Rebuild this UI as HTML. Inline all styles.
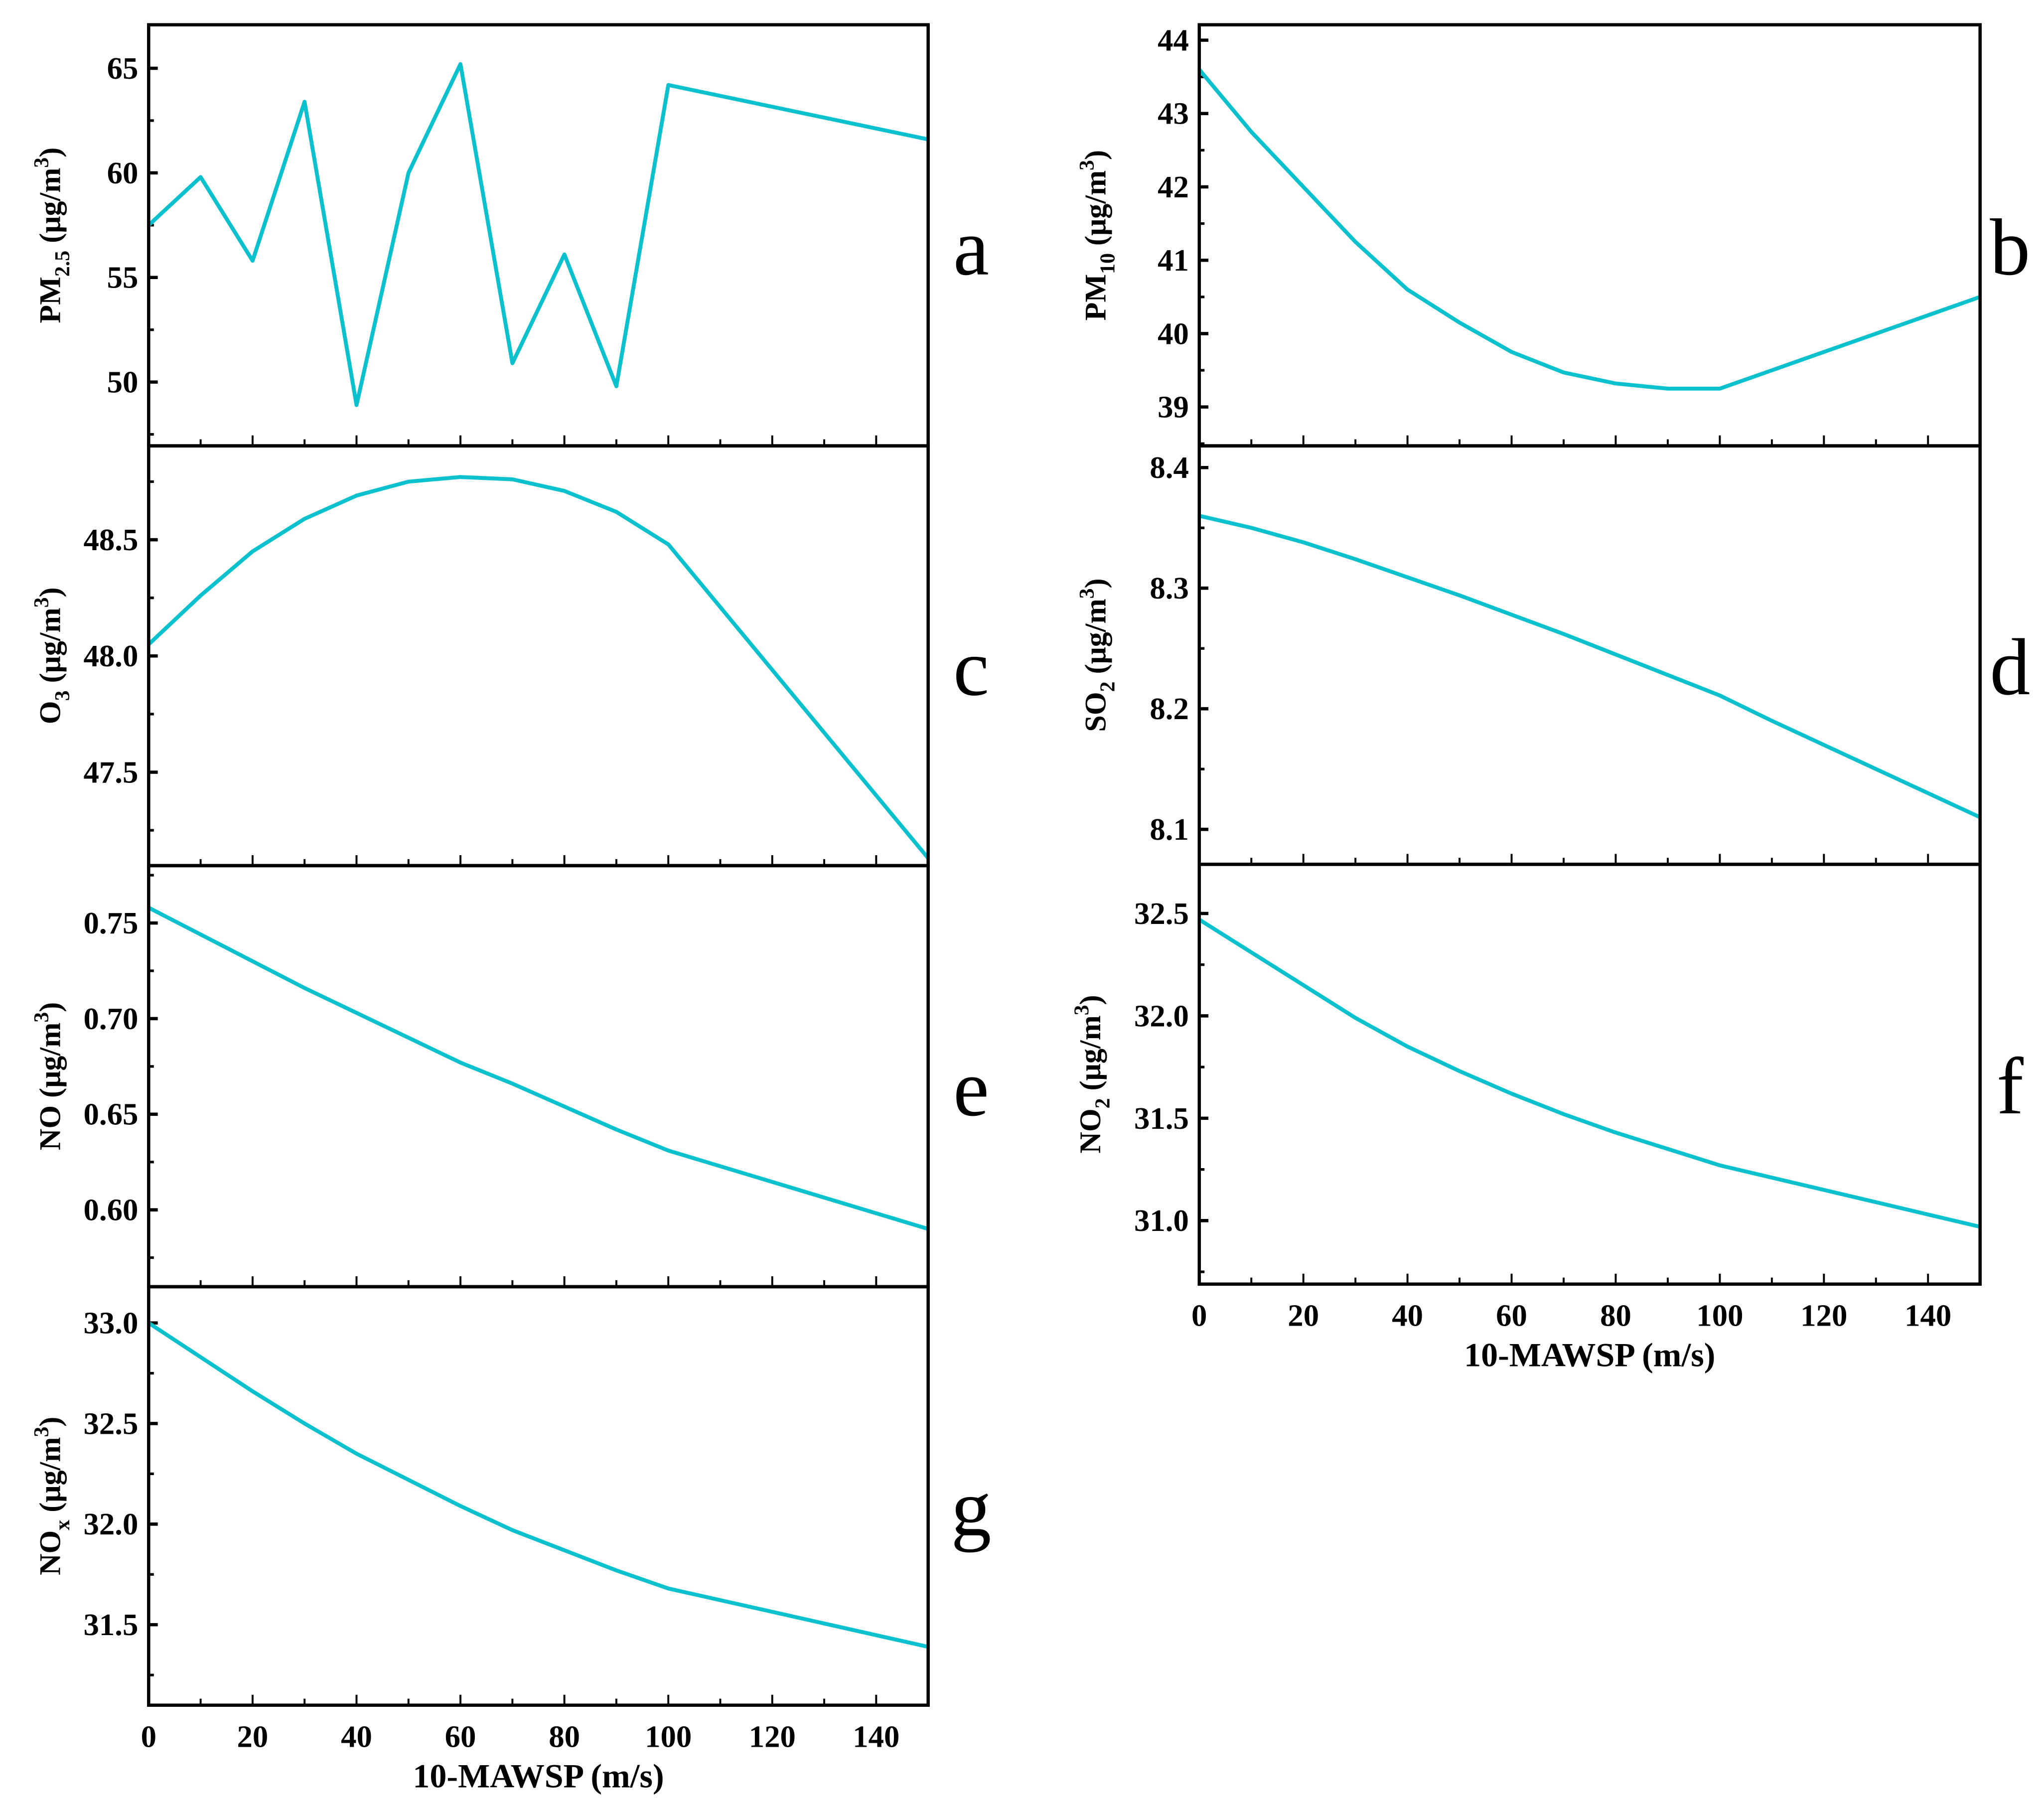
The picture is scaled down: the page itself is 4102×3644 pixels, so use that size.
<!DOCTYPE html>
<html><head><meta charset="utf-8"><style>
html,body{margin:0;padding:0;background:#fff;}
svg{display:block;}
text{font-family:"Liberation Serif",serif;}
.tick{font-weight:bold;font-size:24px;}
.ytitle{font-weight:bold;font-size:23px;}
.xtitle{font-weight:bold;font-size:26px;}
.letter{font-size:62px;}
</style></head><body>
<svg id="fig" width="4102" height="3644" viewBox="0 0 1568 1393" xmlns="http://www.w3.org/2000/svg"></svg>
<script>
const xValsA = [0,10,20,30,40,50,60,70,80,90,100,150];
const pm25 = [57.5,59.8,55.8,63.4,48.9,60.0,65.2,50.9,56.1,49.8,64.2,61.6];
const xValsB = [0,10,20,30,40,50,60,70,80,90,100,110,120,130,140,150];
const pm10 = [43.6,42.75,42.0,41.25,40.6,40.15,39.75,39.47,39.32,39.25,39.25,39.5,39.75,40.0,40.25,40.5];
const xValsC = [0,10,20,30,40,50,60,70,80,90,100,150];
const o3 = [48.05,48.26,48.45,48.59,48.69,48.75,48.77,48.76,48.71,48.62,48.48,47.13];
const xValsD = [0,10,20,30,40,50,60,70,80,90,100,110,120,130,140,150];
const so2 = [8.36,8.35,8.338,8.324,8.309,8.294,8.278,8.262,8.245,8.228,8.211,8.19,8.17,8.15,8.13,8.11];
const xValsE = [0,10,20,30,40,50,60,70,80,90,100,150];
const no = [0.758,0.744,0.730,0.716,0.703,0.690,0.677,0.666,0.654,0.642,0.631,0.590];
const xValsF = [0,10,20,30,40,50,60,70,80,90,100,110,120,130,140,150];
const no2 = [32.47,32.31,32.15,31.99,31.85,31.73,31.62,31.52,31.43,31.35,31.27,31.21,31.15,31.09,31.03,30.97];
const xValsG = [0,10,20,30,40,50,60,70,80,90,100,150];
const nox = [33.0,32.83,32.66,32.50,32.35,32.22,32.09,31.97,31.87,31.77,31.68,31.39];
const xTicks = [0,20,40,60,80,100,120,140];
const ticksA = ["50","55","60","65"];
const ticksB = ["39","40","41","42","43","44"];
const ticksC = ["47.5","48.0","48.5"];
const ticksD = ["8.1","8.2","8.3","8.4"];
const ticksE = ["0.60","0.65","0.70","0.75"];
const ticksF = ["31.0","31.5","32.0","32.5"];
const ticksG = ["31.5","32.0","32.5","33.0"];

const NS="http://www.w3.org/2000/svg";
const svg=document.getElementById('fig');
function el(tag,attrs,parent){const e=document.createElementNS(NS,tag);for(const k in attrs)e.setAttribute(k,attrs[k]);(parent||svg).appendChild(e);return e;}

function panel(cfg){
  const g=el('g',{});
  
  
  const {x0,x1,y0,y1,ymin,ymax,labels}=cfg;
  const sx=v=>x0+(v-0)/(150-0)*(x1-x0);
  const sy=v=>y1-(v-ymin)/(ymax-ymin)*(y1-y0);
  for(let v=0;v<=150;v+=10){
    const t=el('line',{x1:sx(v),x2:sx(v),y1:y1,y2:y1-(v%20===0?8:5),stroke:'#000','stroke-width':1.5},g);
    
    
  }
  const lv=labels.map(Number);
  const step=lv.length>1?lv[1]-lv[0]:1;
  const start=lv[0]-Math.ceil((lv[0]-ymin)/(step/2))*(step/2);
  for(let v=start;v<=ymax+1e-9;v+=step/2){
    if(v<ymin-1e-9)continue;
    const major=lv.some(m=>Math.abs(m-v)<1e-6);
    const t=el('line',{x1:x0,x2:x0+(major?7:4),y1:sy(v),y2:sy(v),stroke:'#000','stroke-width':major?2.5:2},g);
    
    
  }
  labels.forEach(s=>{
    const t=el('text',{x:x0-8,y:sy(Number(s))+8,'text-anchor':'end',class:'tick'},g);
    t.textContent=s;
    
    
  });
  const pts=cfg.xs.map((xv,i)=>sx(xv).toFixed(2)+','+sy(cfg.ys[i]).toFixed(2)).join(' ');
  const pl=el('polyline',{points:pts,fill:'none',stroke:'#0bc1cd','stroke-width':3,'stroke-linejoin':'round'},g);
  
  
  const fr=el('rect',{x:x0,y:y0,width:x1-x0,height:y1-y0,fill:'none',stroke:'#000','stroke-width':2.5},g);
  
  
  const yt=el('text',{transform:`translate(${cfg.tx},${(y0+y1)/2}) rotate(-90)`,'text-anchor':'middle',class:'ytitle'},g);
  yt.innerHTML=cfg.title;
  
  
  const lt=el('text',{x:x1+cfg.lx,y:(y0+y1)/2+30,'text-anchor':'middle',class:'letter'},g);
  lt.textContent=cfg.letter;
  
  
  if(cfg.xlabels){
    xTicks.forEach(v=>{
      const t=el('text',{x:sx(v),y:y1+32,'text-anchor':'middle',class:'tick'},g);
      t.textContent=String(v);
      
      
    });
    const xt=el('text',{x:(x0+x1)/2,y:y1+63,'text-anchor':'middle',class:'xtitle'},g);
    xt.textContent='10-MAWSP (m/s)';
    
    
  }
}
function unitTitle(base,sub){
  return base+(sub?'<tspan dy="7" font-size="16">'+sub+'</tspan><tspan dy="-7"> (μg/m</tspan>':' (μg/m')+'<tspan dy="-9" font-size="16">3</tspan><tspan dy="9">)</tspan>';
}
const L={x0:114,x1:712}, R={x0:920,x1:1519};
panel({name:'pm25',...L,y0:19,y1:342,ymin:46.95,ymax:67.08,labels:ticksA,xs:xValsA,ys:pm25,tx:46,lx:33,letter:'a',title:unitTitle('PM','2.5')});
panel({name:'o3',...L,y0:342,y1:664,ymin:47.098,ymax:48.904,labels:ticksC,xs:xValsC,ys:o3,tx:46,lx:33,letter:'c',title:unitTitle('O','3')});
panel({name:'no',...L,y0:664,y1:987,ymin:0.5598,ymax:0.780,labels:ticksE,xs:xValsE,ys:no,tx:46,lx:33,letter:'e',title:unitTitle('NO','')});
panel({name:'nox',...L,y0:987,y1:1308,ymin:31.10,ymax:33.18,labels:ticksG,xs:xValsG,ys:nox,tx:46,lx:33,letter:'g',xlabels:true,title:unitTitle('NO','x')});
panel({name:'pm10',...R,y0:19,y1:342,ymin:38.47,ymax:44.21,labels:ticksB,xs:xValsB,ys:pm10,tx:848,lx:23,letter:'b',title:unitTitle('PM','10')});
panel({name:'so2',...R,y0:342,y1:663,ymin:8.071,ymax:8.418,labels:ticksD,xs:xValsD,ys:so2,tx:848,lx:23,letter:'d',title:unitTitle('SO','2')});
panel({name:'no2',...R,y0:663,y1:985,ymin:30.69,ymax:32.74,labels:ticksF,xs:xValsF,ys:no2,tx:844,lx:23,letter:'f',xlabels:true,title:unitTitle('NO','2')});
</script>
</body></html>
